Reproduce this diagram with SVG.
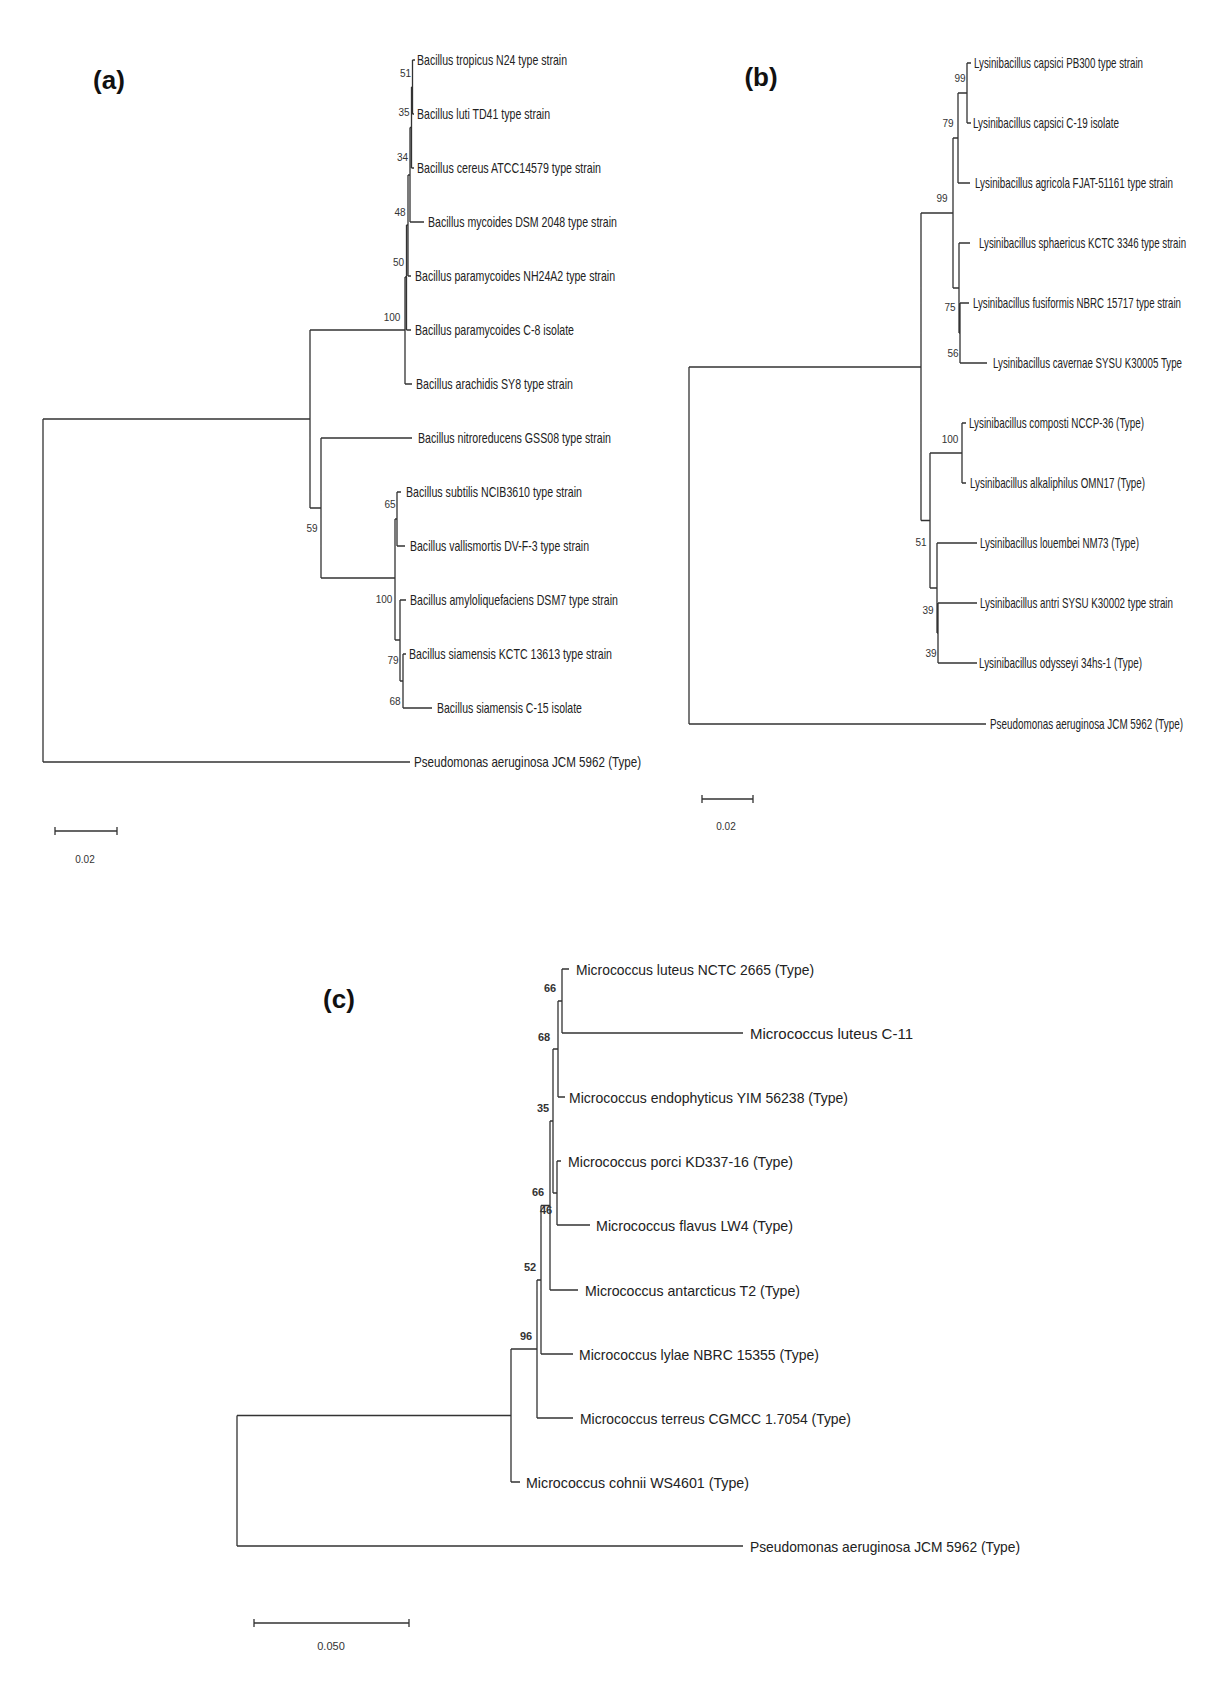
<svg xmlns="http://www.w3.org/2000/svg" width="1218" height="1684" viewBox="0 0 1218 1684">
<style>
.br{stroke:#333;stroke-width:1.3;fill:none}
.t{font-family:"Liberation Sans",Arial,sans-serif;font-size:14px;fill:#222}
.tc{font-family:"Liberation Sans",Arial,sans-serif;font-size:15px;fill:#222}
.bs{font-family:"Liberation Sans",Arial,sans-serif;font-size:10px;fill:#333;text-anchor:middle}
.bsc{font-family:"Liberation Sans",Arial,sans-serif;font-size:11px;font-weight:bold;fill:#333;text-anchor:middle}
.hd{font-family:"Liberation Sans",Arial,sans-serif;font-size:26px;font-weight:bold;fill:#111;text-anchor:middle}
</style>
<rect width="1218" height="1684" fill="#fff"/>

<g id="connectors">
<path class="br" d="M412.5,60V114M412.5,60H415M412.5,114H414
M411.5,87V168M411.5,87H412.5M411.5,168H414
M410,127.5V222M410,127.5H411.5M410,222H424
M408,175V276M408,175H410M408,276H411
M406.5,225V330M406.5,225H408M406.5,330H411
M405,277V384M405,277H406.5M405,384H412
M310,330V508M310,330H405
M321,438V578M310,508H321M321,438H412
M395,519V640M321,578H395
M397,492V546M395,519H397M397,492H401M397,546H405
M400,600V681M395,640H400M400,600H406
M403,654V708M400,681H403M403,654H406M403,708H432
M43,419V762M43,419H310M43,762H410"/>
<path class="br" d="M55,831H117M55,827V835M117,827V835"/>
<path class="br" d="M967,63V123M967,63H971M967,123H971
M958,93V183M958,93H967M958,183H970
M960,303V363M960,303H969M960,363H987
M959,243V333M959,243H970M959,333H960
M953,138V288M953,138H958M953,288H959
M962,423V483M962,423H966M962,483H966
M938,603V663M938,603H977M938,663H977
M937,543V633M937,543H977M937,633H938
M930,453V588M930,453H962M930,588H937
M921,213V520.5M921,213H953M921,520.5H930
M689,367V724M689,367H921M689,724H986"/>
<path class="br" d="M702,799H753M702,795V803M753,795V803"/>
<path class="br" d="M562,969V1033M562,969H569M562,1033H743
M558,1001V1097M558,1001H562M558,1097H565
M557,1161V1225M557,1161H561M557,1225H590
M553,1049V1193M553,1049H558M553,1193H557
M550,1121V1290M550,1121H553M550,1290H578
M541,1205.5V1354M541,1205.5H550M541,1354H573
M537,1280V1418M537,1280H541M537,1418H573
M511,1349V1482M511,1349H537M511,1482H520
M237,1415.5V1546M237,1415.5H511M237,1546H743"/>
<path class="br" d="M254,1623H409M254,1619V1627M409,1619V1627"/>
</g>

<g id="panel-a">
<text class="hd" x="109" y="89">(a)</text>
<g id="a-leaves">
<text class="t" transform="matrix(0.73 0 0 1 417 65)" textLength="205.5" lengthAdjust="spacingAndGlyphs">Bacillus tropicus N24 type strain</text>
<text class="t" transform="matrix(0.73 0 0 1 417 119)" textLength="182.2" lengthAdjust="spacingAndGlyphs">Bacillus luti TD41 type strain</text>
<text class="t" transform="matrix(0.73 0 0 1 417 173)" textLength="252.1" lengthAdjust="spacingAndGlyphs">Bacillus cereus ATCC14579 type strain</text>
<text class="t" transform="matrix(0.73 0 0 1 428 227)" textLength="258.9" lengthAdjust="spacingAndGlyphs">Bacillus mycoides DSM 2048 type strain</text>
<text class="t" transform="matrix(0.73 0 0 1 415 281)" textLength="274" lengthAdjust="spacingAndGlyphs">Bacillus paramycoides NH24A2 type strain</text>
<text class="t" transform="matrix(0.73 0 0 1 415 335)" textLength="217.8" lengthAdjust="spacingAndGlyphs">Bacillus paramycoides C-8 isolate</text>
<text class="t" transform="matrix(0.73 0 0 1 416 389)" textLength="215.1" lengthAdjust="spacingAndGlyphs">Bacillus arachidis SY8 type strain</text>
<text class="t" transform="matrix(0.73 0 0 1 418 443)" textLength="264.4" lengthAdjust="spacingAndGlyphs">Bacillus nitroreducens GSS08 type strain</text>
<text class="t" transform="matrix(0.73 0 0 1 406 497)" textLength="241.1" lengthAdjust="spacingAndGlyphs">Bacillus subtilis NCIB3610 type strain</text>
<text class="t" transform="matrix(0.73 0 0 1 410 551)" textLength="245.2" lengthAdjust="spacingAndGlyphs">Bacillus vallismortis DV-F-3 type strain</text>
<text class="t" transform="matrix(0.73 0 0 1 410 605)" textLength="284.9" lengthAdjust="spacingAndGlyphs">Bacillus amyloliquefaciens DSM7 type strain</text>
<text class="t" transform="matrix(0.73 0 0 1 409 659)" textLength="278.1" lengthAdjust="spacingAndGlyphs">Bacillus siamensis KCTC 13613 type strain</text>
<text class="t" transform="matrix(0.73 0 0 1 437 713)" textLength="198.6" lengthAdjust="spacingAndGlyphs">Bacillus siamensis C-15 isolate</text>
<text class="t" transform="matrix(0.73 0 0 1 414 767)" textLength="311" lengthAdjust="spacingAndGlyphs">Pseudomonas aeruginosa JCM 5962 (Type)</text>
</g>
<g id="a-bootstrap">
<text class="bs" x="405.5" y="77">51</text>
<text class="bs" x="404" y="116">35</text>
<text class="bs" x="402.5" y="161">34</text>
<text class="bs" x="400" y="216">48</text>
<text class="bs" x="398.5" y="266">50</text>
<text class="bs" x="392" y="321">100</text>
<text class="bs" x="312" y="532">59</text>
<text class="bs" x="390" y="508">65</text>
<text class="bs" x="384" y="603">100</text>
<text class="bs" x="393" y="664">79</text>
<text class="bs" x="395" y="705">68</text>
</g>
<text class="bs" x="85" y="863">0.02</text>
</g>

<g id="panel-b">
<text class="hd" x="761" y="86">(b)</text>
<g id="b-leaves">
<text class="t" transform="matrix(0.73 0 0 1 974 68)" textLength="231.5" lengthAdjust="spacingAndGlyphs">Lysinibacillus capsici PB300 type strain</text>
<text class="t" transform="matrix(0.73 0 0 1 973 128)" textLength="200" lengthAdjust="spacingAndGlyphs">Lysinibacillus capsici C-19 isolate</text>
<text class="t" transform="matrix(0.73 0 0 1 975 188)" textLength="271.2" lengthAdjust="spacingAndGlyphs">Lysinibacillus agricola FJAT-51161 type strain</text>
<text class="t" transform="matrix(0.73 0 0 1 979 248)" textLength="283.6" lengthAdjust="spacingAndGlyphs">Lysinibacillus sphaericus KCTC 3346 type strain</text>
<text class="t" transform="matrix(0.73 0 0 1 973 308)" textLength="284.9" lengthAdjust="spacingAndGlyphs">Lysinibacillus fusiformis NBRC 15717 type strain</text>
<text class="t" transform="matrix(0.73 0 0 1 993 368)" textLength="258.9" lengthAdjust="spacingAndGlyphs">Lysinibacillus cavernae SYSU K30005 Type</text>
<text class="t" transform="matrix(0.73 0 0 1 969 428)" textLength="239.7" lengthAdjust="spacingAndGlyphs">Lysinibacillus composti NCCP-36 (Type)</text>
<text class="t" transform="matrix(0.73 0 0 1 970 488)" textLength="239.7" lengthAdjust="spacingAndGlyphs">Lysinibacillus alkaliphilus OMN17 (Type)</text>
<text class="t" transform="matrix(0.73 0 0 1 980 548)" textLength="217.8" lengthAdjust="spacingAndGlyphs">Lysinibacillus louembei NM73 (Type)</text>
<text class="t" transform="matrix(0.73 0 0 1 980 608)" textLength="264.4" lengthAdjust="spacingAndGlyphs">Lysinibacillus antri SYSU K30002 type strain</text>
<text class="t" transform="matrix(0.73 0 0 1 979 668)" textLength="223.3" lengthAdjust="spacingAndGlyphs">Lysinibacillus odysseyi 34hs-1 (Type)</text>
<text class="t" transform="matrix(0.73 0 0 1 990 729)" textLength="264.4" lengthAdjust="spacingAndGlyphs">Pseudomonas aeruginosa JCM 5962 (Type)</text>
</g>
<g id="b-bootstrap">
<text class="bs" x="960" y="82">99</text>
<text class="bs" x="948" y="127">79</text>
<text class="bs" x="942" y="202">99</text>
<text class="bs" x="950" y="311">75</text>
<text class="bs" x="953" y="357">56</text>
<text class="bs" x="950" y="443">100</text>
<text class="bs" x="921" y="546">51</text>
<text class="bs" x="928" y="614">39</text>
<text class="bs" x="931" y="657">39</text>
</g>
<text class="bs" x="726" y="830">0.02</text>
</g>

<g id="panel-c">
<text class="hd" x="339" y="1008">(c)</text>
<g id="c-leaves">
<text class="tc" x="576" y="974.5" textLength="238" lengthAdjust="spacingAndGlyphs">Micrococcus luteus NCTC 2665 (Type)</text>
<text class="tc" x="750" y="1038.5" textLength="163" lengthAdjust="spacingAndGlyphs">Micrococcus luteus C-11</text>
<text class="tc" x="569" y="1102.5" textLength="279" lengthAdjust="spacingAndGlyphs">Micrococcus endophyticus YIM 56238 (Type)</text>
<text class="tc" x="568" y="1166.5" textLength="225" lengthAdjust="spacingAndGlyphs">Micrococcus porci KD337-16 (Type)</text>
<text class="tc" x="596" y="1230.5" textLength="197" lengthAdjust="spacingAndGlyphs">Micrococcus flavus LW4 (Type)</text>
<text class="tc" x="585" y="1295.5" textLength="215" lengthAdjust="spacingAndGlyphs">Micrococcus antarcticus T2 (Type)</text>
<text class="tc" x="579" y="1359.5" textLength="240" lengthAdjust="spacingAndGlyphs">Micrococcus lylae NBRC 15355 (Type)</text>
<text class="tc" x="580" y="1423.5" textLength="271" lengthAdjust="spacingAndGlyphs">Micrococcus terreus CGMCC 1.7054 (Type)</text>
<text class="tc" x="526" y="1487.5" textLength="223" lengthAdjust="spacingAndGlyphs">Micrococcus cohnii WS4601 (Type)</text>
<text class="tc" x="750" y="1551.5" textLength="270" lengthAdjust="spacingAndGlyphs">Pseudomonas aeruginosa JCM 5962 (Type)</text>
</g>
<g id="c-bootstrap">
<text class="bsc" x="550" y="992">66</text>
<text class="bsc" x="544" y="1041">68</text>
<text class="bsc" x="543" y="1112">35</text>
<text class="bsc" x="538" y="1196">66</text>
<text class="bsc" x="546" y="1214">46</text>
<text class="bsc" x="530" y="1271">52</text>
<text class="bsc" x="526" y="1340">96</text>
</g>
<text class="bs" x="331" y="1650" style="font-size:11px">0.050</text>
</g>
</svg>
